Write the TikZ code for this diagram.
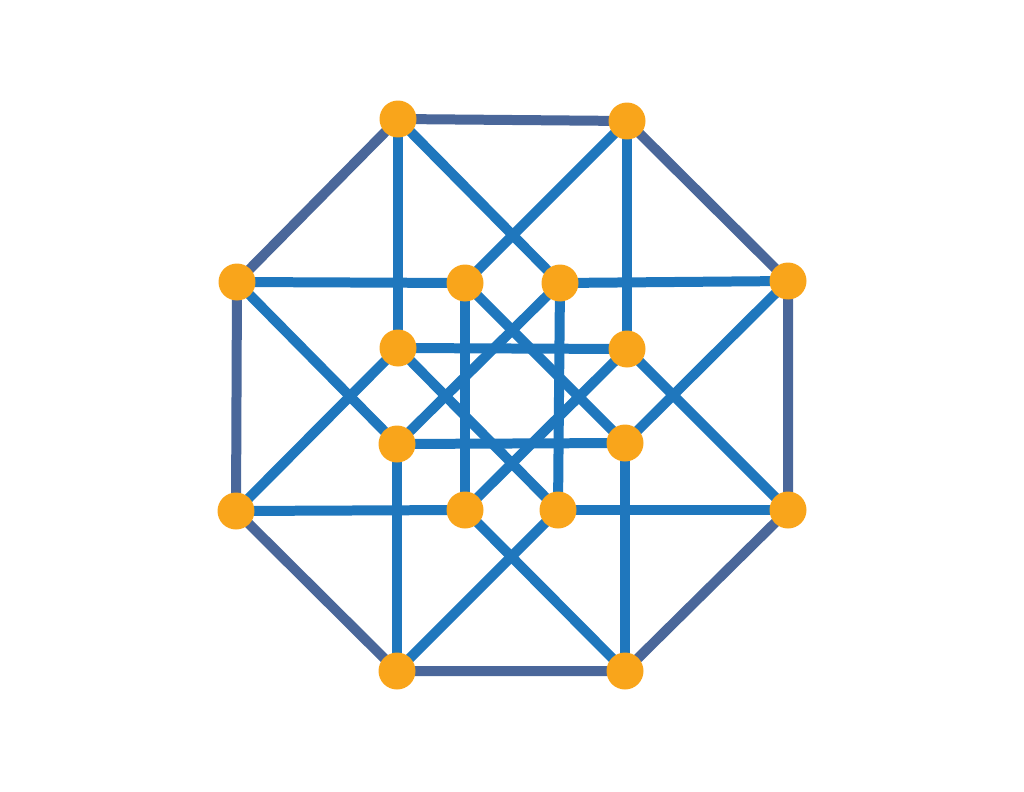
\documentclass[tikz,border=0pt]{standalone}
\usetikzlibrary{backgrounds}
\definecolor{vtx}{HTML}{F9A51B}
\definecolor{inner}{HTML}{1F77BD}
\definecolor{outer}{HTML}{4A679A}
\begin{document}
\begin{tikzpicture}[x=0.02cm,y=-0.02cm,
  vertex/.style={circle,fill=vtx,draw=none,minimum size=0.74cm,inner sep=0pt},
  rim/.style={draw=outer,line width=0.2cm},
  spoke/.style={draw=inner,line width=0.2cm}]
\useasboundingbox (0,0) rectangle (1024,791);
\node[vertex] (O1) at (398,119) {};
\node[vertex] (O2) at (627,121) {};
\node[vertex] (O3) at (788,281) {};
\node[vertex] (O4) at (788,510) {};
\node[vertex] (O5) at (625,671) {};
\node[vertex] (O6) at (397,671) {};
\node[vertex] (O7) at (236,511) {};
\node[vertex] (O8) at (237,282) {};
\node[vertex] (I1) at (465,283) {};
\node[vertex] (I2) at (560,283) {};
\node[vertex] (I3) at (627,349) {};
\node[vertex] (I4) at (625,443) {};
\node[vertex] (I5) at (558,510) {};
\node[vertex] (I6) at (465,510) {};
\node[vertex] (I7) at (397,444) {};
\node[vertex] (I8) at (398,348) {};
\begin{scope}[on background layer]
\draw[rim] (O1.center) -- (O2.center) -- (O3.center) -- (O4.center) -- (O5.center) -- (O6.center) -- (O7.center) -- (O8.center) -- cycle;
\foreach \a/\b in {O1/I8,O1/I2,O2/I3,O2/I1,O3/I2,O3/I4,O4/I5,O4/I3,O5/I4,O5/I6,O6/I7,O6/I5,O7/I6,O7/I8,O8/I1,O8/I7,
  I1/I6,I2/I5,I8/I3,I7/I4,I1/I4,I2/I7,I8/I5,I3/I6}
  \draw[spoke] (\a.center) -- (\b.center);
\end{scope}
\end{tikzpicture}
\end{document}
